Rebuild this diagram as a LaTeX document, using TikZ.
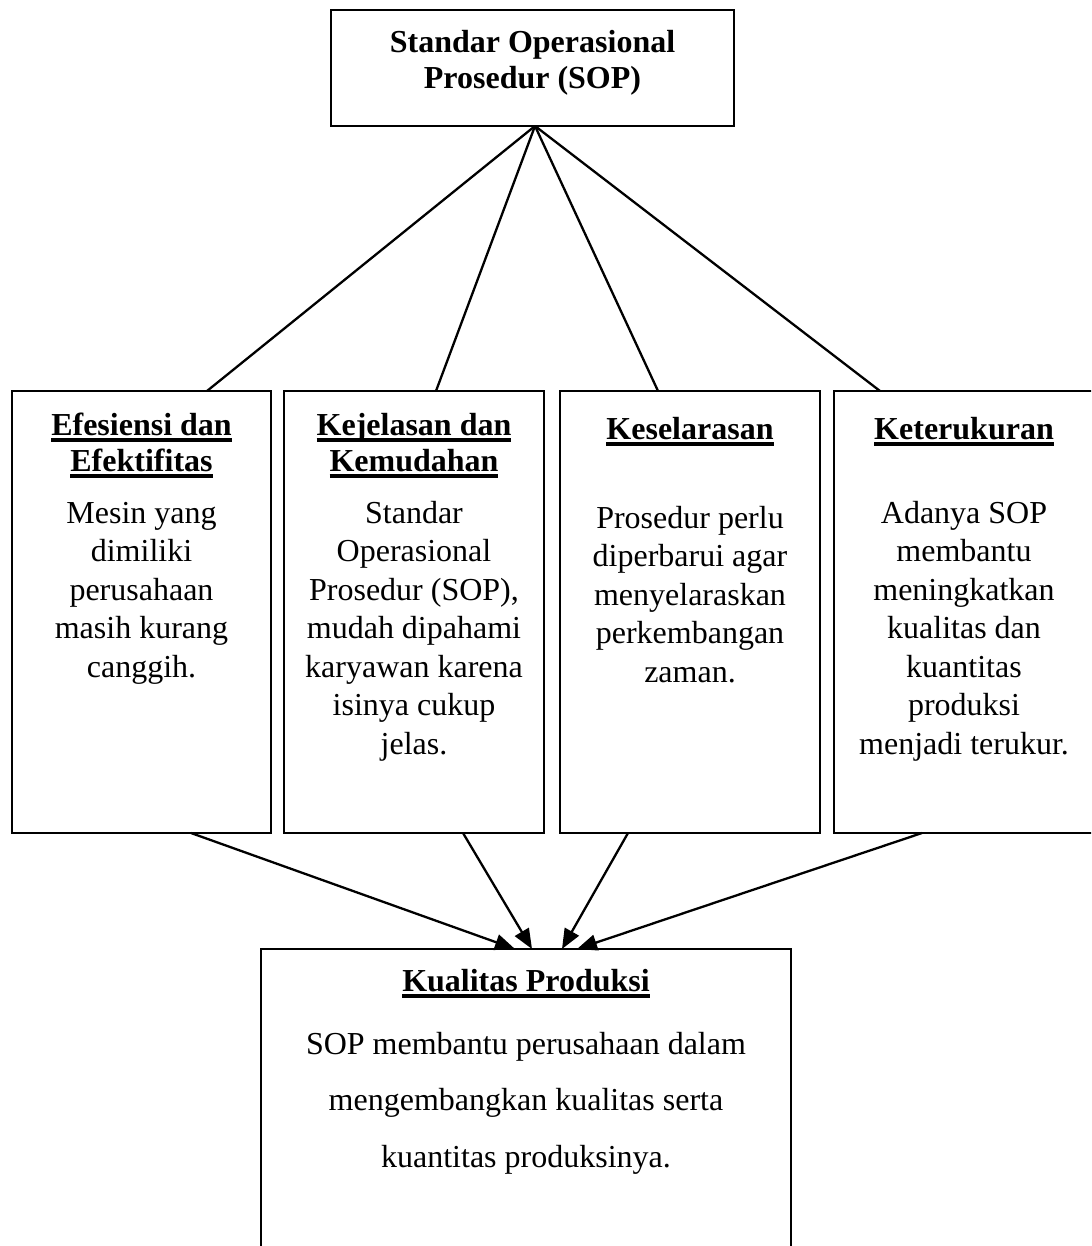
\documentclass[tikz,border=0pt]{standalone}
\usepackage{fontspec}
\setmainfont{Liberation Serif}
\usetikzlibrary{arrows.meta}
\newcommand\mystack[1]{\begin{tabular}[t]{@{}c@{}}#1\end{tabular}}
\newsavebox\ulbox
\newcommand\ulx[1]{\sbox\ulbox{#1}\rlap{\rule[-6.5pt]{\wd\ulbox}{3.3pt}}\usebox\ulbox}
\begin{document}
\begin{tikzpicture}[x=1pt,y=-1pt,
  box/.style={draw=black, line width=2pt, inner sep=0pt, outer sep=0pt, fill=none},
  body/.style={inner sep=0pt, anchor=base, font=\fontsize{32}{38.5}\selectfont},
  head/.style={inner sep=0pt, anchor=base, font=\fontsize{32}{36}\selectfont\bfseries},
  wide/.style={inner sep=0pt, anchor=base, font=\fontsize{32}{56.5}\selectfont},
  conn/.style={line width=2.3pt},
  arr/.style={line width=2.3pt, -{Triangle[length=20pt,width=16pt]}}]
\useasboundingbox (0,0) rectangle (1091,1246);
\clip (0,0) rectangle (1091,1246);
\fill[white] (0,0) rectangle (1091,1246);
% boxes
\node[box, minimum width=403pt, minimum height=116pt] (top) at (532.5,68) {};
\node[box, minimum width=259pt, minimum height=442pt] (b1) at (141.5,612) {};
\node[box, minimum width=260pt, minimum height=442pt] (b2) at (414,612) {};
\node[box, minimum width=260pt, minimum height=442pt] (b3) at (690,612) {};
\node[box, minimum width=260pt, minimum height=442pt] (b4) at (964,612) {};
\node[box, minimum width=530pt, minimum height=311pt] (bot) at (526,1104.5) {};
% texts
\node[head] (ttop) at (532.5,53) {\mystack{Standar Operasional\\Prosedur (SOP)}};
\node[head] (h1) at (141.5,435) {\mystack{\ulx{Efesiensi dan}\\\ulx{Efektifitas}}};
\node[head] (h2) at (414,435) {\mystack{\ulx{Kejelasan dan}\\\ulx{Kemudahan}}};
\node[head] (h3) at (690,439) {\ulx{Keselarasan}};
\node[head] (h4) at (964,439) {\ulx{Keterukuran}};
\node[body] (t1) at (141.5,523) {\mystack{Mesin yang\\dimiliki\\perusahaan\\masih kurang\\canggih.}};
\node[body] (t2) at (414,523) {\mystack{Standar\\Operasional\\Prosedur (SOP),\\mudah dipahami\\karyawan karena\\isinya cukup\\jelas.}};
\node[body] (t3) at (690,528) {\mystack{Prosedur perlu\\diperbarui agar\\menyelaraskan\\perkembangan\\zaman.}};
\node[body] (t4) at (964,523) {\mystack{Adanya SOP\\membantu\\meningkatkan\\kualitas dan\\kuantitas\\produksi\\menjadi terukur.}};
\node[head] (hb) at (526,991) {\ulx{Kualitas Produksi}};
\node[wide] (tb) at (526,1054) {\mystack{SOP membantu perusahaan dalam\\mengembangkan kualitas serta\\kuantitas produksinya.}};
% connectors
\draw[conn] ([xshift=2.5pt]top.south) -- ([xshift=65.5pt]b1.north);
\draw[conn] ([xshift=2.5pt]top.south) -- ([xshift=22pt]b2.north);
\draw[conn] ([xshift=2.5pt]top.south) -- ([xshift=-32pt]b3.north);
\draw[conn] ([xshift=2.5pt]top.south) -- ([xshift=-84pt]b4.north);
\draw[arr] ([xshift=49.5pt]b1.south) -- ([xshift=-11pt]bot.north);
\draw[arr] ([xshift=49pt]b2.south) -- ([xshift=6pt]bot.north);
\draw[arr] ([xshift=-62pt]b3.south) -- ([xshift=36pt]bot.north);
\draw[arr] ([xshift=-42pt]b4.south) -- ([xshift=51pt]bot.north);
\end{tikzpicture}
\end{document}
